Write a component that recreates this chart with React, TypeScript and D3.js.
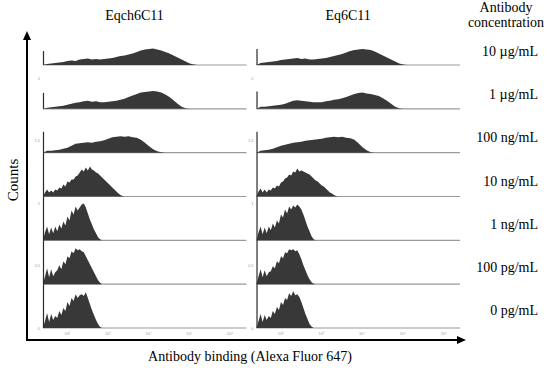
import { useEffect, useRef } from "react";
import * as d3 from "d3";

// Panels (antibody clones) and rows (antibody concentration)
const antibodies = ["Eqch6C11", "Eq6C11"];
const concentrations = ["10 µg/mL", "1 µg/mL", "100 ng/mL", "10 ng/mL", "1 ng/mL", "100 pg/mL", "0 pg/mL"];

// log10 fluorescence range of each histogram and its decade ticks
const logDomain = [1.41, 6.4];
const decadeTicks = [2, 3, 4, 5, 6];
const decadeLabels = ["10²", "10³", "10⁴", "10⁵", "10⁶"];

// staggered offset axis printed at the left of each panel
const offsetTicks = [0, 0.5, 1, 1.5, 2];
const offsetLabels = ["0", "0.5", "1", "1.5", "2"];

// bin width (log10 units) per concentration row
const binWidths = [0.1, 0.1, 0.1, 0.05, 0.05, 0.05, 0.05];

// events piled up in the first channel (count units, 44 = full row)
const pileUpEqch6C11 = [14, 16, 21, 44, 44, 44, 44];
const pileUpEq6C11 = [16, 17.5, 21, 44, 44, 44, 44];

// Eqch6C11 histograms, one per concentration
const eqch10ug = [1, 1.5, 2, 2.5, 3, 4, 4.5, 4, 5.5, 6, 6.5, 5.5, 6, 5.5, 6, 6.5, 7, 8, 9, 9.5, 10.5, 11.5, 13, 14.5, 15.5, 16, 16.5, 15.5, 14.5, 13, 11.5, 9.5, 7.5, 5.5, 3.5, 1.5, 0.5, 0];
const eqch1ug = [1, 1.5, 2, 2.5, 3, 4, 5, 6, 6.5, 7.5, 8, 7, 7.5, 6.5, 6.5, 7, 7.5, 8, 9, 10, 12, 13.5, 15, 16.5, 17, 17.5, 18, 17.5, 16.5, 14.5, 12, 8.5, 5, 2, 0.5, 0];
const eqch100ng = [2, 2, 2.5, 3, 4, 5, 7, 9, 9.5, 10, 10.5, 10, 11, 11.5, 12.5, 14, 15.5, 16, 16.5, 16, 16.5, 15.5, 15, 13, 10, 6.5, 3.5, 1.5, 0.5, 0];
const eqch10ng = [4, 7, 4, 6, 4, 7, 6, 9, 8, 12, 10, 15, 14, 17, 17, 20, 21, 24, 27, 25, 29, 26, 30, 27, 26, 24, 23, 21, 19, 17, 15, 13, 11, 9, 7, 5, 3, 1.5, 0.5, 0];
const eqch1ng = [8, 14, 6, 13, 7, 14, 9, 16, 12, 19, 15, 24, 20, 30, 26, 34, 30, 33, 36, 37, 33, 27, 21, 16, 11, 7, 3, 1, 0];
const eqch100pg = [8, 16, 7, 15, 8, 12, 14, 19, 15, 23, 20, 28, 26, 33, 31, 36, 34, 35, 33, 32, 28, 24, 20, 16, 12, 8, 4, 1.5, 0];
const eqch0pg = [7, 15, 6, 14, 8, 12, 10, 17, 13, 20, 17, 26, 22, 30, 27, 34, 30, 33, 34, 32, 36, 30, 24, 18, 13, 8, 4, 1, 0];

// Eq6C11 histograms, one per concentration
const eq10ug = [2, 2.5, 3, 3.5, 4, 5, 5.5, 6, 6.5, 7, 6, 6.5, 5.5, 5.5, 6, 6.5, 7, 8, 9, 10, 11, 12.5, 14, 15, 15.5, 16, 15.5, 15, 13.5, 11.5, 9.5, 7.5, 5.5, 3.5, 1.5, 0.5, 0];
const eq1ug = [2, 2, 2.5, 3, 3.5, 4, 5, 6.5, 8, 8.5, 8, 7.5, 7, 6.5, 6.5, 6.5, 7.5, 8, 9, 9.5, 10.5, 12, 13.5, 15, 16, 16.5, 15.5, 15, 14, 13, 10.5, 8, 5, 2, 0.5, 0];
const eq100ng = [2, 2.5, 3, 4, 5.5, 7, 8, 9, 10, 10.5, 11, 12, 12.5, 13, 13.5, 14, 15, 15.5, 16, 15.5, 16, 15, 14.5, 13, 9.5, 5.5, 2.5, 0.5, 0];
const eq10ng = [5, 8, 4, 7, 4, 7, 6, 9, 8, 11, 10, 14, 15, 18, 19, 22, 21, 25, 24, 28, 25, 26, 25, 24, 23, 22, 20, 18, 16, 15, 13, 11, 10, 8, 6, 4, 3, 1.5, 0.5, 0];
const eq1ng = [8, 14, 6, 13, 7, 14, 10, 17, 13, 20, 17, 26, 23, 31, 27, 34, 31, 35, 33, 36, 34, 31, 26, 20, 14, 9, 4, 1, 0];
const eq100pg = [8, 15, 7, 14, 8, 12, 13, 18, 16, 23, 21, 28, 26, 32, 31, 35, 34, 35, 33, 34, 30, 25, 19, 14, 9, 5, 2, 0.5, 0];
const eq0pg = [7, 14, 6, 13, 8, 12, 10, 17, 14, 21, 18, 26, 23, 30, 28, 35, 32, 37, 33, 34, 31, 26, 20, 14, 9, 4, 1.5, 0];

const histograms = [
  [eqch10ug, eqch1ug, eqch100ng, eqch10ng, eqch1ng, eqch100pg, eqch0pg],
  [eq10ug, eq1ug, eq100ng, eq10ng, eq1ng, eq100pg, eq0pg],
];
const pileUps = [pileUpEqch6C11, pileUpEq6C11];

const FONT = "'Liberation Serif', 'Times New Roman', serif";

export default function App() {
  const ref = useRef<SVGSVGElement>(null);

  useEffect(() => {
    if (!ref.current) return;
    const svg = d3.select(ref.current);
    svg.selectAll("*").remove();

    const panel = d3.scaleBand<string>().domain(antibodies).range([43, 460]).paddingInner(0.047);
    const rows = d3.scalePoint<string>().domain(concentrations).range([65, 328]);
    const labelY = d3.scalePoint<string>().domain(concentrations).range([56, 315]);
    const x = d3.scaleLinear().domain(logDomain).range([0, panel.bandwidth()]);
    const rowStep = rows.step();
    const h = d3.scaleLinear().domain([0, 44]).range([0, rowStep]);
    const offY = d3.scaleLinear().domain([0, 2]).range([328, 78]);

    const area = d3.area<[number, number]>()
      .x(d => x(d[0]))
      .y0(0)
      .y1(d => -h(d[1]));

    antibodies.forEach((ab, pi) => {
      const g = svg.append("g").attr("transform", `translate(${panel(ab)},0)`);

      // title
      svg.append("text")
        .attr("x", (panel(ab) as number) + panel.bandwidth() * 0.45)
        .attr("y", 20)
        .attr("text-anchor", "middle")
        .attr("font-family", FONT)
        .attr("font-size", 14)
        .text(ab);

      concentrations.forEach((c, ri) => {
        const row = g.append("g").attr("transform", `translate(0,${rows(c)})`);
        const bw = binWidths[ri];
        const vals = histograms[pi][ri];
        const pts: [number, number][] = [[logDomain[0], 0]];
        vals.forEach((v, j) => pts.push([logDomain[0] + (j + 1) * bw, v]));

        row.append("line")
          .attr("x1", 0).attr("x2", panel.bandwidth())
          .attr("y1", 0).attr("y2", 0)
          .attr("stroke", "#9a9a9a")
          .attr("stroke-width", 1.2);

        row.append("path")
          .attr("d", area(pts))
          .attr("fill", "#383838");

        row.append("line")
          .attr("x1", x(logDomain[0]) + 0.5).attr("x2", x(logDomain[0]) + 0.5)
          .attr("y1", 0).attr("y2", -h(pileUps[pi][ri]))
          .attr("stroke", "#2a2a2a")
          .attr("stroke-width", 1.2);
      });

      // tiny offset axis labels
      g.selectAll(".off")
        .data(offsetTicks)
        .enter()
        .append("text")
        .attr("x", -3)
        .attr("y", d => offY(d) + 1.5)
        .attr("text-anchor", "end")
        .attr("font-family", "Arial, sans-serif")
        .attr("font-size", 4)
        .attr("fill", "#999")
        .text((_, i) => offsetLabels[i]);

      // tiny decade labels
      g.selectAll(".dec")
        .data(decadeTicks)
        .enter()
        .append("text")
        .attr("x", d => x(d))
        .attr("y", 334.5)
        .attr("text-anchor", "middle")
        .attr("font-family", "Arial, sans-serif")
        .attr("font-size", 4)
        .attr("fill", "#999")
        .text((_, i) => decadeLabels[i]);
    });

    // concentration labels
    svg.selectAll(".conc")
      .data(concentrations)
      .enter()
      .append("text")
      .attr("x", 538)
      .attr("y", d => labelY(d) as number)
      .attr("text-anchor", "end")
      .attr("font-family", FONT)
      .attr("font-size", 14)
      .text(d => d);

    const header = svg.append("text")
      .attr("text-anchor", "middle")
      .attr("font-family", FONT)
      .attr("font-size", 14);
    header.append("tspan").attr("x", 506).attr("y", 12).text("Antibody");
    header.append("tspan").attr("x", 506).attr("y", 27).text("concentration");

    // outer axes with arrows
    svg.append("line")
      .attr("x1", 27).attr("x2", 27).attr("y1", 341).attr("y2", 38)
      .attr("stroke", "#000").attr("stroke-width", 2);
    svg.append("path")
      .attr("d", "M27,31 L23,40 L31,40 Z")
      .attr("fill", "#000");
    svg.append("line")
      .attr("x1", 26).attr("x2", 459).attr("y1", 340).attr("y2", 340)
      .attr("stroke", "#000").attr("stroke-width", 2);
    svg.append("path")
      .attr("d", "M466,340 L457,336 L457,344 Z")
      .attr("fill", "#000");

    svg.append("text")
      .attr("transform", "translate(18,180) rotate(-90)")
      .attr("text-anchor", "middle")
      .attr("font-family", FONT)
      .attr("font-size", 15)
      .text("Counts");

    svg.append("text")
      .attr("x", 250)
      .attr("y", 361)
      .attr("text-anchor", "middle")
      .attr("font-family", FONT)
      .attr("font-size", 14)
      .text("Antibody binding (Alexa Fluor 647)");
  }, []);

  return (
    <div style={{ position: "absolute", left: 0, top: 0 }}>
      <svg ref={ref} width={550} height={371} style={{ display: "block", background: "#fff" }} />
    </div>
  );
}
